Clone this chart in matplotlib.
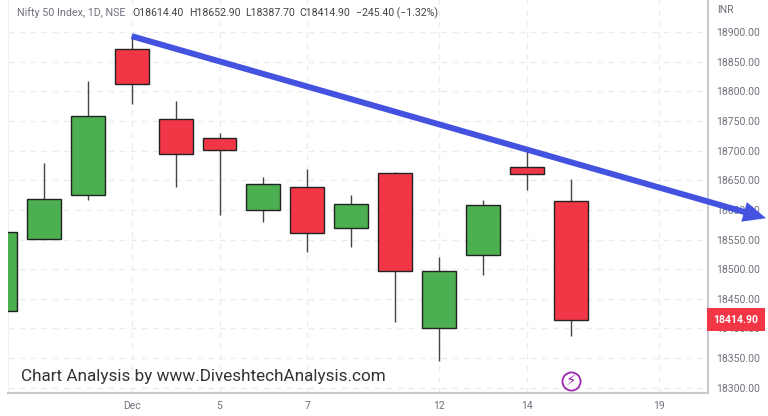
import matplotlib
matplotlib.use('Agg')
import matplotlib.pyplot as plt

opens = [18430, 18551, 18625, 18871, 18753, 18721, 18600, 18639, 18569, 18662, 18401, 18524, 18672, 18614.4]
highs = [18563, 18679, 18817, 18895, 18784, 18730, 18655, 18669, 18625, 18664, 18521, 18617, 18701, 18652.9]
lows = [18430, 18551, 18617, 18779, 18639, 18591, 18580, 18529, 18537, 18411, 18345, 18490, 18634, 18387.7]
closes = [18563, 18618, 18758, 18812, 18694, 18701, 18644, 18561, 18610, 18497, 18497, 18608, 18660, 18414.9]

x_ticks = [3, 5, 7, 10, 12, 15]
x_labels = ['Dec', '5', '7', '12', '14', '19']
y_ticks = [18300, 18350, 18400, 18450, 18500, 18550, 18600, 18650, 18700, 18750, 18800, 18850, 18900]
last_close = 18414.9
trend_x = [3, 17.45]
trend_y = [18893, 18586]

green = '#4caf50'
red = '#f23645'
grey = '#6f727c'
W, H = 768, 416

plt.rcParams['font.family'] = ['Roboto', 'DejaVu Sans']
fig = plt.figure(figsize=(W / 100, H / 100), dpi=100)
ax = fig.add_axes([8 / W, 1 - 393 / H, 700 / W, 393 / H])

# x pixels: index 3 sits at 131.7, 43.9 px per bar
ax.set_xlim(3 + (8 - 131.7) / 43.9, 3 + (708 - 131.7) / 43.9)
ax.set_ylim(18900 - (393 - 32) / 0.593, 18900 + 32 / 0.593)

ax.set_xticks(x_ticks)
ax.set_xticklabels(x_labels)
ax.set_yticks(y_ticks)
ax.set_yticklabels(['%.2f' % v for v in y_ticks])
ax.yaxis.tick_right()
ax.tick_params(length=0, labelsize=7.5, labelcolor=grey)
ax.tick_params(axis='x', pad=6)
ax.tick_params(axis='y', pad=6)
ax.grid(True, color='#ececec', linestyle=(0, (4, 4)), linewidth=1)
ax.set_axisbelow(True)

ax.spines['top'].set_visible(False)
ax.spines['left'].set_color('#f0f0f0')
ax.spines['right'].set_color('#c9c9d0')
ax.spines['right'].set_linewidth(1.5)
ax.spines['bottom'].set_color('#c9c9d0')
ax.spines['bottom'].set_linewidth(1.5)

for i in range(len(opens)):
    col = green if closes[i] >= opens[i] else red
    ax.vlines(i, lows[i], highs[i], color='#444444', linewidth=1, zorder=2)
    ax.bar(i, abs(closes[i] - opens[i]), bottom=min(opens[i], closes[i]), width=0.77,
           color=col, edgecolor='#222222', linewidth=1, zorder=3)

ax.annotate('', xy=(trend_x[1], trend_y[1]), xytext=(trend_x[0], trend_y[0]),
            annotation_clip=False, zorder=5,
            arrowprops=dict(arrowstyle='-|>,head_length=0.9,head_width=0.4', color='#4353e0',
                            linewidth=4.3, shrinkA=0, shrinkB=0, joinstyle='miter', capstyle='butt'))

# last price tag
ax.annotate('%.2f' % last_close, xy=(1, last_close), xycoords=('axes fraction', 'data'),
            xytext=(736, 0), textcoords=('figure pixels', 'offset points'), ha='center', va='center',
            color='white', fontsize=7.5, fontweight='bold', annotation_clip=False,
            bbox=dict(boxstyle='square,pad=0.6', fc=red, ec='none'))

# event marker
ax.scatter([13], [18312], s=170, facecolor='white', edgecolor='#9c27b0', linewidth=1.3, zorder=4)
ax.text(13, 18312, '\u26a1', color='#9c27b0', fontsize=11, ha='center', va='center', zorder=5,
        family='DejaVu Sans')

fig.text(17 / W, 1 - 13 / H, 'Nifty 50 Index, 1D, NSE', color=grey, fontsize=7.75, va='center')
fig.text(132 / W, 1 - 13 / H, 'O18614.40', color='#444444', fontsize=7.6, va='center')
fig.text(189 / W, 1 - 13 / H, 'H18652.90', color='#444444', fontsize=7.6, va='center')
fig.text(245 / W, 1 - 13 / H, 'L18387.70', color='#444444', fontsize=7.6, va='center')
fig.text(299 / W, 1 - 13 / H, 'C18414.90', color='#444444', fontsize=7.6, va='center')
fig.text(356 / W, 1 - 13 / H, '\u2212245.40 (\u22121.32%)', color='#444444', fontsize=7.6, va='center')
fig.text(717 / W, 1 - 10 / H, 'INR', color=grey, fontsize=7.5, va='center')
fig.text(21 / W, 1 - 377 / H, 'Chart Analysis by www.DiveshtechAnalysis.com', color='#333333',
         fontsize=12.35, va='center')

fig.savefig('out.png', dpi=100)
